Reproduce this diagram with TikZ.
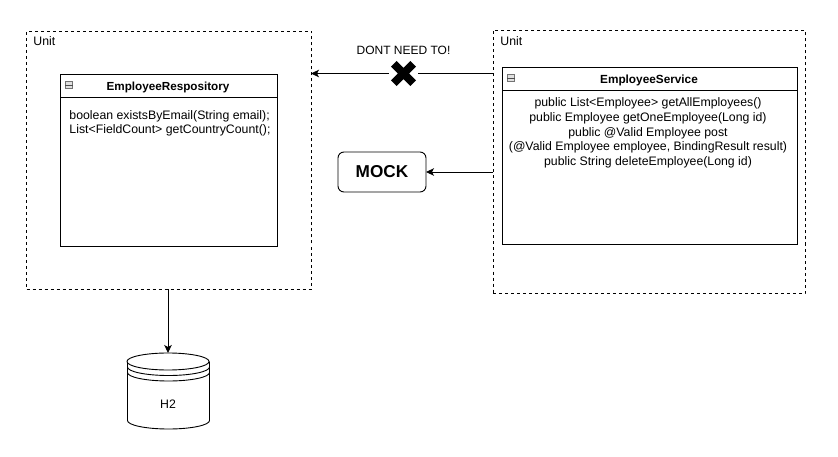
\documentclass[tikz,border=0pt]{standalone}
\usepackage{fontspec}
\setmainfont{Liberation Sans}
\usetikzlibrary{shapes.misc,arrows.meta}
\begin{document}
\begin{tikzpicture}[x=1pt,y=-1pt,line width=0.9pt,>={Stealth[length=8pt,width=7.5pt,inset=2pt]},
  font=\fontsize{12.3}{14.6}\selectfont,
  unit/.style={draw,dash pattern=on 3pt off 3pt,anchor=north west,inner sep=0pt,outer sep=0pt},
  classbox/.style={draw,anchor=north west,inner sep=0pt,outer sep=0pt},
  lbl/.style={inner sep=0pt,align=center},
  minibox/.style={draw=black!55,fill=black!12,line width=0.8pt,minimum size=7pt,inner sep=0pt}]
\useasboundingbox (0,0) rectangle (838,457);
% units
\node[unit,minimum width=284.5pt,minimum height=258pt] (unitRepo) at (26.5,31) {};
\node[unit,minimum width=312pt,minimum height=263pt] (unitServ) at (493,30.5) {};
\node[lbl,anchor=west] (labRepo) at (33,41) {Unit};
\node[lbl,anchor=west] (labServ) at (500,41) {Unit};
% repository class
\node[classbox,minimum width=216.5pt,minimum height=172pt] (classRepo) at (60.5,74) {};
\coordinate (repoL) at (60.5,97); \coordinate (repoR) at (277,97);
\draw (repoL) -- (repoR);
\node[minibox] (boxRepo) at (69,85) {};
\draw[black!70,line width=0.8pt] (boxRepo.west) -- (boxRepo.east);
\node[lbl,font=\fontsize{11.7}{14.5}\selectfont\bfseries] (titleRepo) at (168,87) {EmployeeRespository};
\node[lbl,anchor=west,align=left] (bodyRepo) at (69,123.5)
  {boolean existsByEmail(String email);\\List<FieldCount> getCountryCount();};
% service class
\node[classbox,minimum width=295pt,minimum height=177pt] (classServ) at (502,67.5) {};
\coordinate (servL) at (502,90.5); \coordinate (servR) at (797,90.5);
\draw (servL) -- (servR);
\node[minibox] (boxServ) at (511,78) {};
\draw[black!70,line width=0.8pt] (boxServ.west) -- (boxServ.east);
\node[lbl,font=\fontsize{11.8}{14.5}\selectfont\bfseries] (titleServ) at (649,80) {EmployeeService};
\node[lbl] (bodyServ) at (648,133)
  {public List<Employee> getAllEmployees()\\public Employee getOneEmployee(Long id)\\
   public @Valid Employee post\\(@Valid Employee employee, BindingResult result)\\
   public String deleteEmployee(Long id)};
% mock and the cross
\node[draw,rounded corners=6pt,minimum width=88pt,minimum height=40pt,inner sep=0pt,outer sep=0pt,
  font=\fontsize{17.2}{19}\selectfont\bfseries] (mock) at (382,172) {MOCK};
\node[draw,cross out,line width=8pt,minimum size=19.4pt,inner sep=0pt,outer sep=0pt] (cross) at (403.5,73.5) {};
\node[lbl,font=\fontsize{12}{14.5}\selectfont] (dont) at (403.5,50) {DONT NEED TO!};
% connectors
\draw[shorten >=5pt] (unitServ.west |- cross) -- (cross);
\draw[->,shorten <=5pt] (cross) -- (unitRepo.east |- cross);
\draw[->] (unitServ.west |- mock) -- (mock);
% database
\coordinate (dbTop) at (168,353);
\draw (168,361.5) ellipse[x radius=41,y radius=8.5];
\draw (127.5,361.5) -- (127.5,420.5) arc[start angle=180,end angle=0,x radius=41,y radius=8.5]
  -- (209.5,361.5);
\draw (127.5,367) arc[start angle=180,end angle=0,x radius=41,y radius=8.5];
\draw (127.5,372.5) arc[start angle=180,end angle=0,x radius=41,y radius=8.5];
\node[lbl] (h2) at (168,404.5) {H2};
\draw[->] (unitRepo.south -| dbTop) -- (dbTop);
\end{tikzpicture}
\end{document}
